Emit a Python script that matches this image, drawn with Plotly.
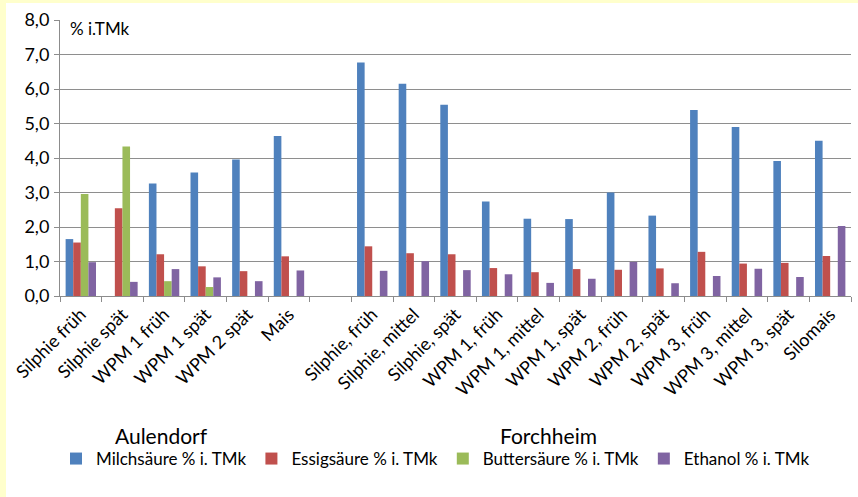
import plotly.graph_objects as go

# Categories: 6 Aulendorf variants, one spacer, 12 Forchheim variants
categories = [
    "Silphie früh", "Silphie spät", "WPM 1 früh", "WPM 1 spät", "WPM 2 spät", "Mais",
    " ",
    "Silphie, früh", "Silphie, mittel", "Silphie, spät",
    "WPM 1, früh", "WPM 1, mittel", "WPM 1, spät",
    "WPM 2, früh", "WPM 2, spät",
    "WPM 3, früh", "WPM 3, mittel", "WPM 3, spät", "Silomais",
]

milchsaeure = [1.65, None, 3.26, 3.58, 3.96, 4.64,
               None,
               6.77, 6.15, 5.54, 2.74, 2.24, 2.23, 3.00, 2.33, 5.39, 4.90, 3.91, 4.50]
essigsaeure = [1.55, 2.54, 1.21, 0.86, 0.72, 1.15,
               None,
               1.44, 1.24, 1.21, 0.81, 0.69, 0.78, 0.76, 0.80, 1.28, 0.94, 0.96, 1.16]
buttersaeure = [2.96, 4.33, 0.43, 0.26, None, None,
                None,
                None, None, None, None, None, None, None, None, None, None, None, None]
ethanol = [0.98, 0.41, 0.78, 0.54, 0.43, 0.74,
           None,
           0.73, 1.01, 0.75, 0.63, 0.38, 0.50, 0.99, 0.37, 0.58, 0.79, 0.55, 2.03]

series_names = ["Milchsäure % i. TMk", "Essigsäure % i. TMk",
                "Buttersäure % i. TMk", "Ethanol % i. TMk"]
series_values = [milchsaeure, essigsaeure, buttersaeure, ethanol]
series_colors = ["#4F81BD", "#C0504D", "#9BBB59", "#8064A2"]

y_ticks = [0, 1, 2, 3, 4, 5, 6, 7, 8]

W, H = 858, 497
ML, MR, MT, MB = 60, 7, 20, 201
PW = W - ML - MR
PH = H - MT - MB


def px_x(px):
    return (px - ML) / PW


def px_y(py):
    return (H - MB - py) / PH


FONT = "Lato, 'Open Sans', sans-serif"
FRAME = "#FFFFCC"

fig = go.Figure()
for name, vals, col in zip(series_names, series_values, series_colors):
    fig.add_trace(go.Bar(
        x=categories, y=vals, name=name,
        marker=dict(color=col, line=dict(width=0)),
    ))

fig.update_layout(
    width=W, height=H,
    margin=dict(l=ML, r=MR, t=MT, b=MB, autoexpand=False),
    paper_bgcolor="white",
    plot_bgcolor="white",
    separators=",.",
    barmode="group",
    bargap=0.27,
    bargroupgap=0,
    font=dict(family=FONT, size=18, color="black"),
    showlegend=True,
    legend=dict(
        orientation="h",
        xref="container", yref="container",
        x=56 / W, xanchor="left",
        y=1 - 459 / H, yanchor="middle",
        font=dict(size=17),
        itemwidth=30,
        bgcolor="rgba(0,0,0,0)",
        traceorder="normal",
    ),
    xaxis=dict(
        type="category",
        categoryorder="array", categoryarray=categories,
        tickson="boundaries",
        ticks="outside", ticklen=5, tickcolor="#8C8C8C", tickwidth=1,
        showline=True, linecolor="#8C8C8C", linewidth=1,
        showgrid=False,
        tickangle=-45,
        tickfont=dict(size=18),
        automargin=False,
        fixedrange=True,
    ),
    yaxis=dict(
        range=[0, 8],
        tickvals=y_ticks,
        tickformat=".1f",
        ticks="outside", ticklen=5, tickcolor="#8C8C8C", tickwidth=1,
        showline=True, linecolor="#8C8C8C", linewidth=1,
        showgrid=True, gridcolor="#8E8E8E", gridwidth=1,
        zeroline=False,
        tickfont=dict(size=18),
        ticklabelstandoff=1,
        automargin=False,
        fixedrange=True,
    ),
    shapes=[
        # pale yellow frame strips along the left and top edges
        dict(type="rect", xref="paper", yref="paper", layer="above",
             x0=px_x(-2), x1=px_x(6), y0=px_y(H + 2), y1=px_y(-2),
             fillcolor=FRAME, line=dict(width=0)),
        dict(type="rect", xref="paper", yref="paper", layer="above",
             x0=px_x(-2), x1=px_x(W + 2), y0=px_y(3), y1=px_y(-2),
             fillcolor=FRAME, line=dict(width=0)),
        # box behind the unit label, hides the top gridline
        dict(type="rect", xref="paper", yref="paper", layer="above",
             x0=px_x(61), x1=px_x(140), y0=px_y(38), y1=px_y(12),
             fillcolor="white", line=dict(width=0)),
    ],
    annotations=[
        dict(text="% i.TMk", xref="paper", yref="paper",
             x=px_x(68), y=px_y(28), xanchor="left", yanchor="middle",
             showarrow=False, font=dict(size=17)),
        dict(text="Aulendorf", xref="paper", yref="paper",
             x=px_x(161), y=px_y(435), xanchor="center", yanchor="middle",
             showarrow=False, font=dict(size=21)),
        dict(text="Forchheim", xref="paper", yref="paper",
             x=px_x(548), y=px_y(435), xanchor="center", yanchor="middle",
             showarrow=False, font=dict(size=21)),
    ],
)

fig.write_html("out.html")
